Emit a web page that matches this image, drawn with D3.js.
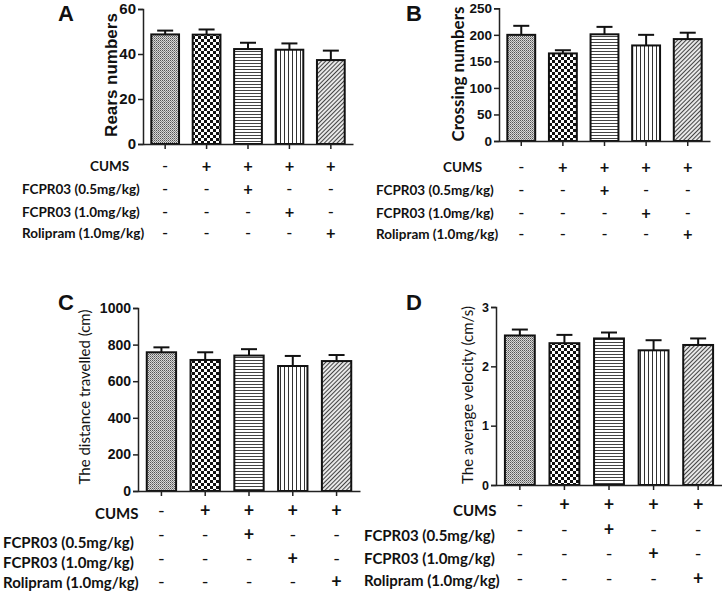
<!DOCTYPE html>
<html><head><meta charset="utf-8">
<script src="https://cdn.jsdelivr.net/npm/d3@7"></script>
<style>
html,body{margin:0;padding:0;background:#fff;}
svg{display:block;}
</style></head>
<body>
<svg id="chart" width="722" height="603"></svg>
<script>
// ---------- DATA ----------
const groups = ["Control", "CUMS", "CUMS+FCPR03 0.5", "CUMS+FCPR03 1.0", "CUMS+Rolipram"];
const rowLabels = ["CUMS", "FCPR03 (0.5mg/kg)", "FCPR03 (1.0mg/kg)", "Rolipram (1.0mg/kg)"];
const rowSigns = [
  ["-", "+", "+", "+", "+"],
  ["-", "-", "+", "-", "-"],
  ["-", "-", "-", "+", "-"],
  ["-", "-", "-", "-", "+"]
];
const rearsMean = [48.7, 48.6, 42.2, 41.9, 37.3];
const rearsErr = [1.7, 2.3, 2.8, 2.8, 4.2];
const rearsTicks = [0, 20, 40, 60];
const crossingMean = [200, 165, 201, 180, 192];
const crossingErr = [17, 6, 14, 20, 12];
const crossingTicks = [0, 50, 100, 150, 200, 250];
const distanceMean = [758, 716, 740, 683, 710];
const distanceErr = [27, 42, 35, 55, 33];
const distanceTicks = [0, 200, 400, 600, 800, 1000];
const velocityMean = [2.52, 2.39, 2.47, 2.27, 2.36];
const velocityErr = [0.10, 0.14, 0.10, 0.17, 0.11];
const velocityTicks = [0, 1, 2, 3];
const panelLetters = ["A", "B", "C", "D"];
const yTitles = ["Rears numbers", "Crossing numbers", "The distance travelled (cm)", "The average velocity (cm/s)"];

// ---------- SETUP ----------
const svg = d3.select("#chart");
const defs = svg.append("defs");
const patIds = ["p0", "p1", "p2", "p3", "p4"];
// p0: fine gray texture
let p = defs.append("pattern").attr("id", "p0").attr("patternUnits", "userSpaceOnUse").attr("width", 2).attr("height", 2);
p.append("rect").attr("width", 2).attr("height", 2).attr("fill", "#d8d8d8");
p.append("rect").attr("width", 1).attr("height", 1).attr("fill", "#555");
p.append("rect").attr("x", 1).attr("y", 1).attr("width", 1).attr("height", 1).attr("fill", "#888");
// p1: checkerboard
p = defs.append("pattern").attr("id", "p1").attr("patternUnits", "userSpaceOnUse").attr("width", 6).attr("height", 6);
p.append("rect").attr("width", 6).attr("height", 6).attr("fill", "#fff");
p.append("rect").attr("width", 3).attr("height", 3).attr("fill", "#111");
p.append("rect").attr("x", 3).attr("y", 3).attr("width", 3).attr("height", 3).attr("fill", "#111");
// p2: horizontal lines
p = defs.append("pattern").attr("id", "p2").attr("patternUnits", "userSpaceOnUse").attr("width", 4).attr("height", 3);
p.append("rect").attr("width", 4).attr("height", 3).attr("fill", "#fff");
p.append("rect").attr("width", 4).attr("height", 1).attr("fill", "#444");
// p3: vertical lines
p = defs.append("pattern").attr("id", "p3").attr("patternUnits", "userSpaceOnUse").attr("width", 4).attr("height", 4);
p.append("rect").attr("width", 4).attr("height", 4).attr("fill", "#fff");
p.append("rect").attr("width", 1).attr("height", 4).attr("fill", "#333");
// p4: diagonal hatching
p = defs.append("pattern").attr("id", "p4").attr("patternUnits", "userSpaceOnUse").attr("width", 3).attr("height", 3).attr("patternTransform", "rotate(45)");
p.append("rect").attr("width", 3).attr("height", 3).attr("fill", "#e8e8e8");
p.append("rect").attr("width", 1).attr("height", 3).attr("fill", "#444");

const panels = [
  {mean: rearsMean, err: rearsErr, ticks: rearsTicks, dom: [0, 60], xr: [143, 353], yr: [144, 9],
   tickFont: 15, letter: [58, 21], title: {x: 111, y: 75, font: "Liberation Sans", weight: "bold", size: 17},
   table: {labelX: 22, cumsX: 90, rows: [166, 189, 212, 233], syms: [166, 189, 212, 233], size: 13.5}},
  {mean: crossingMean, err: crossingErr, ticks: crossingTicks, dom: [0, 250], xr: [499, 710], yr: [141, 8.3],
   tickFont: 13.5, letter: [406, 21], title: {x: 457, y: 74, font: "Lato", weight: "bold", size: 17},
   table: {labelX: 376, cumsX: 443, rows: [167, 190, 213, 234], syms: [167, 190, 213, 234], size: 13.5}},
  {mean: distanceMean, err: distanceErr, ticks: distanceTicks, dom: [0, 1000], xr: [138, 360], yr: [491, 308],
   tickFont: 14, letter: [58, 310], title: {x: 84, y: 397, font: "Lato", weight: "normal", size: 15},
   table: {labelX: 3, cumsX: 95, rows: [513, 542, 562, 582], syms: [510, 534, 558, 581], size: 15}},
  {mean: velocityMean, err: velocityErr, ticks: velocityTicks, dom: [0, 3], xr: [496, 722], yr: [485, 307],
   tickFont: 12.5, letter: [406, 310], title: {x: 467, y: 395, font: "Lato", weight: "normal", size: 15},
   table: {labelX: 364, cumsX: 453, rows: [510, 535, 558, 580], syms: [504, 529, 553, 578], size: 15}}
];

panels.forEach((cfg, pi) => {
  const g = svg.append("g");
  const x = d3.scaleBand().domain(groups).range(cfg.xr).paddingInner(0.33).paddingOuter(0.2);
  const y = d3.scaleLinear().domain(cfg.dom).range(cfg.yr);

  // bars
  g.selectAll("rect.bar").data(groups).enter().append("rect")
    .attr("class", "bar")
    .attr("x", d => x(d))
    .attr("width", x.bandwidth())
    .attr("y", (d, i) => y(cfg.mean[i]))
    .attr("height", (d, i) => y(0) - y(cfg.mean[i]))
    .attr("fill", (d, i) => `url(#${patIds[i]})`)
    .attr("stroke", "#111").attr("stroke-width", 2);

  // error bars
  const capW = 16;
  groups.forEach((d, i) => {
    const cx = x(d) + x.bandwidth() / 2;
    g.append("line").attr("x1", cx).attr("x2", cx)
      .attr("y1", y(cfg.mean[i])).attr("y2", y(cfg.mean[i] + cfg.err[i]))
      .attr("stroke", "#111").attr("stroke-width", 2);
    g.append("line").attr("x1", cx - capW / 2).attr("x2", cx + capW / 2)
      .attr("y1", y(cfg.mean[i] + cfg.err[i])).attr("y2", y(cfg.mean[i] + cfg.err[i]))
      .attr("stroke", "#111").attr("stroke-width", 2);
  });

  // y axis
  const ya = g.append("g").attr("transform", `translate(${cfg.xr[0]},0)`)
    .call(d3.axisLeft(y).tickValues(cfg.ticks).tickSize(5).tickPadding(2).tickFormat(d3.format("d")));
  ya.select(".domain").attr("stroke", "#222").attr("stroke-width", 1.5);
  ya.selectAll(".tick line").attr("stroke", "#222").attr("stroke-width", 1.5);
  ya.selectAll("text").attr("font-family", "Liberation Sans, Arial, sans-serif")
    .attr("font-weight", "bold").attr("font-size", cfg.tickFont).attr("fill", "#111");

  // x axis
  const xa = g.append("g").attr("transform", `translate(0,${cfg.yr[0]})`)
    .call(d3.axisBottom(x).tickSize(5).tickSizeOuter(0).tickFormat(""));
  xa.select(".domain").attr("stroke", "#222").attr("stroke-width", 1.5);
  xa.selectAll(".tick line").attr("stroke", "#222").attr("stroke-width", 1.5);

  // panel letter
  svg.append("text").attr("x", cfg.letter[0]).attr("y", cfg.letter[1])
    .attr("font-family", "Liberation Sans, Arial, sans-serif").attr("font-weight", "bold")
    .attr("font-size", 22).attr("fill", "#111").text(panelLetters[pi]);

  // y title
  svg.append("text")
    .attr("transform", `translate(${cfg.title.x},${cfg.title.y}) rotate(-90)`)
    .attr("text-anchor", "middle").attr("dominant-baseline", "central")
    .attr("font-family", cfg.title.font + ", sans-serif").attr("font-weight", cfg.title.weight)
    .attr("font-size", cfg.title.size).attr("fill", "#111").text(yTitles[pi]);

  // treatment table
  const t = cfg.table;
  rowLabels.forEach((lab, ri) => {
    svg.append("text")
      .attr("x", ri === 0 ? t.cumsX : t.labelX).attr("y", t.rows[ri])
      .attr("dominant-baseline", "central")
      .attr("font-family", "Lato, sans-serif").attr("font-weight", "bold")
      .attr("font-size", t.size).attr("fill", "#111").text(lab);
    rowSigns[ri].forEach((s, ci) => {
      svg.append("text")
        .attr("x", x(groups[ci]) + x.bandwidth() / 2).attr("y", t.syms[ri])
        .attr("text-anchor", "middle").attr("dominant-baseline", "central")
        .attr("font-family", "Lato, sans-serif").attr("font-weight", s === "+" ? "bold" : "normal")
        .attr("font-size", t.size + 3).attr("fill", "#111").text(s);
    });
  });
});
</script>
</body></html>
